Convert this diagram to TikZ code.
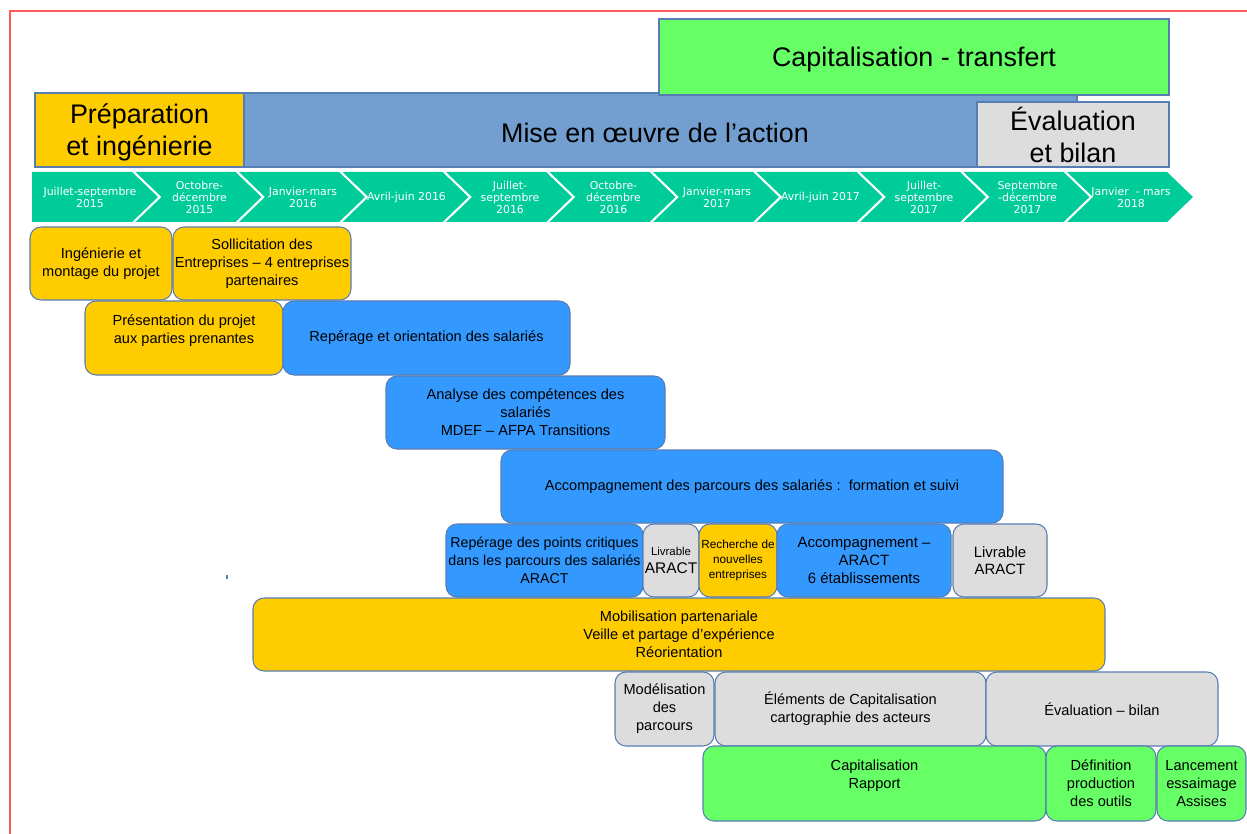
\documentclass[tikz,border=0pt]{standalone}
\usepackage{fontspec}
\setmainfont{Liberation Sans}
\newfontfamily\chevfont{DejaVu Sans}

\definecolor{edge}{RGB}{88,125,180}
\definecolor{jaune}{RGB}{255,204,0}
\definecolor{bleu}{RGB}{51,153,255}
\definecolor{gris}{RGB}{221,221,221}
\definecolor{vert}{RGB}{102,255,102}
\definecolor{bleuhdr}{RGB}{114,159,207}
\definecolor{chevvert}{RGB}{0,204,153}
\definecolor{rouge}{RGB}{255,90,90}

\tikzset{
  wh/.style 2 args={minimum width=#1*0.02cm, minimum height=#2*0.02cm},
  hdr/.style={draw=edge, line width=0.6pt, inner sep=0pt},
  hdrtext/.style={align=center, text depth=0pt, font=\fontsize{15.3}{18.1}\selectfont},
  box/.style={draw=edge, line width=0.6pt, rounded corners=0.22cm, inner sep=0pt,
    align=center, font=\fontsize{8.3}{10.2}\selectfont},
  chev/.style={fill=chevvert},
  chevtext/.style={text=white, align=center, font=\chevfont\fontsize{6.2}{6.8}\selectfont},
}

\begin{document}
\begin{tikzpicture}[x=0.02cm, y=-0.02cm]

\useasboundingbox (0,0) rectangle (1247,834);
\draw [rouge, line width=0.7pt] (10,834) -- (10,11) -- (1247,11);

% phases
\node (oeuvre) [hdr, fill=bleuhdr, wh={1042}{74}] at (556,130) {};
\node (capitrans) [hdr, fill=vert, hdrtext, wh={510}{76}] at (914,57) {Capitalisation - transfert};
\node (prepa) [hdr, fill=jaune, hdrtext, wh={209}{74}] at (139.5,130) {Préparation\\et ingénierie};
\node (evalphase) [hdr, fill=gris, hdrtext, wh={192}{65}] at (1073,134.5) {Évaluation\\ et bilan};
\node (action) [hdrtext] at (655,133) {Mise en œuvre de l’action};

% trimestres
\fill [chev] (32,172) -- (132,172) -- (158,197) -- (132,222) -- (32,222) -- cycle;
\fill [chev] (135.5,172) -- (235.5,172) -- (261.5,197) -- (235.5,222) -- (135.5,222) -- (161.5,197) -- cycle;
\fill [chev] (239,172) -- (339,172) -- (365,197) -- (339,222) -- (239,222) -- (265,197) -- cycle;
\fill [chev] (342.5,172) -- (442.5,172) -- (468.5,197) -- (442.5,222) -- (342.5,222) -- (368.5,197) -- cycle;
\fill [chev] (446,172) -- (546,172) -- (572,197) -- (546,222) -- (446,222) -- (472,197) -- cycle;
\fill [chev] (549.5,172) -- (649.5,172) -- (675.5,197) -- (649.5,222) -- (549.5,222) -- (575.5,197) -- cycle;
\fill [chev] (653,172) -- (753,172) -- (779,197) -- (753,222) -- (653,222) -- (679,197) -- cycle;
\fill [chev] (756.5,172) -- (856.5,172) -- (882.5,197) -- (856.5,222) -- (756.5,222) -- (782.5,197) -- cycle;
\fill [chev] (860,172) -- (960,172) -- (986,197) -- (960,222) -- (860,222) -- (886,197) -- cycle;
\fill [chev] (963.5,172) -- (1063.5,172) -- (1089.5,197) -- (1063.5,222) -- (963.5,222) -- (989.5,197) -- cycle;
\fill [chev] (1067,172) -- (1167,172) -- (1193,197) -- (1167,222) -- (1067,222) -- (1093,197) -- cycle;

\node (t1) [chevtext] at (90,197) {Juillet-septembre\\2015};
\node (t2) [chevtext] at (199.5,197) {Octobre-\\décembre\\2015};
\node (t3) [chevtext] at (303,197) {Janvier-mars\\2016};
\node (t4) [chevtext] at (406.5,197) {Avril-juin 2016};
\node (t5) [chevtext] at (510,197) {Juillet-\\septembre\\2016};
\node (t6) [chevtext] at (613.5,197) {Octobre-\\décembre\\2016};
\node (t7) [chevtext] at (717,197) {Janvier-mars\\2017};
\node (t8) [chevtext] at (820.5,197) {Avril-juin 2017};
\node (t9) [chevtext] at (924,197) {Juillet-\\septembre\\2017};
\node (t10) [chevtext] at (1027.5,197) {Septembre\\-décembre\\2017};
\node (t11) [chevtext] at (1131,197) {Janvier\ \ - mars\\2018};

% actions
\node (ingen) [box, fill=jaune, wh={142}{73}] at (101,263.5) {Ingénierie et\\montage du projet};
\node (sollic) [box, fill=jaune, wh={178}{73}] at (262,263.5) {Sollicitation des\\Entreprises – 4 entreprises\\partenaires};
\node (present) [box, fill=jaune, wh={198}{74}] at (184,338) {Présentation du projet\\aux parties prenantes\\\phantom{R}};
\node (reperage) [box, fill=bleu, wh={287}{74}] at (426.5,338) {Repérage et orientation des salariés};
\node (analyse) [box, fill=bleu, wh={279}{73}] at (525.5,412.5) {Analyse des compétences des\\salariés\\MDEF – AFPA Transitions};
\node (parcours) [box, fill=bleu, wh={502}{73}] at (752,486.5) {Accompagnement des parcours des salariés :\ \ formation et suivi};

\node (points) [box, fill=bleu, wh={197}{73}, font=\fontsize{8.1}{10.2}\selectfont] at (544.5,560.5) {Repérage des points critiques\\dans les parcours des salariés\\ARACT};
\node (livra) [box, fill=gris, wh={56}{73}] at (671,560.5) {{\fontsize{6.5}{8}\selectfont Livrable}\\{\fontsize{8.8}{10.2}\selectfont ARACT}};
\node (recherche) [box, fill=jaune, wh={78}{73}, font=\fontsize{6.7}{8.5}\selectfont] at (738,560.5) {Recherche de\\nouvelles\\entreprises};
\node (accaract) [box, fill=bleu, wh={174}{73}, font=\fontsize{8.5}{10}\selectfont] at (864,560.5) {Accompagnement –\\ARACT\\6 établissements};
\node (livrb) [box, fill=gris, wh={94}{73}, font=\fontsize{8.5}{9.7}\selectfont] at (1000,560.5) {Livrable\\ARACT};

\node (mobil) [box, fill=jaune, wh={852}{73}] at (679,634.5) {Mobilisation partenariale\\Veille et partage d’expérience\\Réorientation};

\node (modele) [box, fill=gris, wh={99}{74}] at (664.5,709) {Modélisation\\des\\parcours};
\node (elements) [box, fill=gris, wh={271}{74}] at (850.5,709) {Éléments de Capitalisation\\cartographie des acteurs};
\node (evalbilan) [box, fill=gris, wh={232}{74}] at (1102,709) {Évaluation – bilan};

\node (rapport) [box, fill=vert, wh={343}{75}] at (874.5,783.5) {Capitalisation\\Rapport\\\phantom{R}};
\node (outils) [box, fill=vert, wh={110}{75}] at (1101,783.5) {Définition\\production\\des outils};
\node (essaim) [box, fill=vert, wh={89}{75}] at (1201.5,783.5) {Lancement\\essaimage\\Assises};

\draw [edge, line width=0.6pt] (227,575) -- (227,579);

\end{tikzpicture}
\end{document}
